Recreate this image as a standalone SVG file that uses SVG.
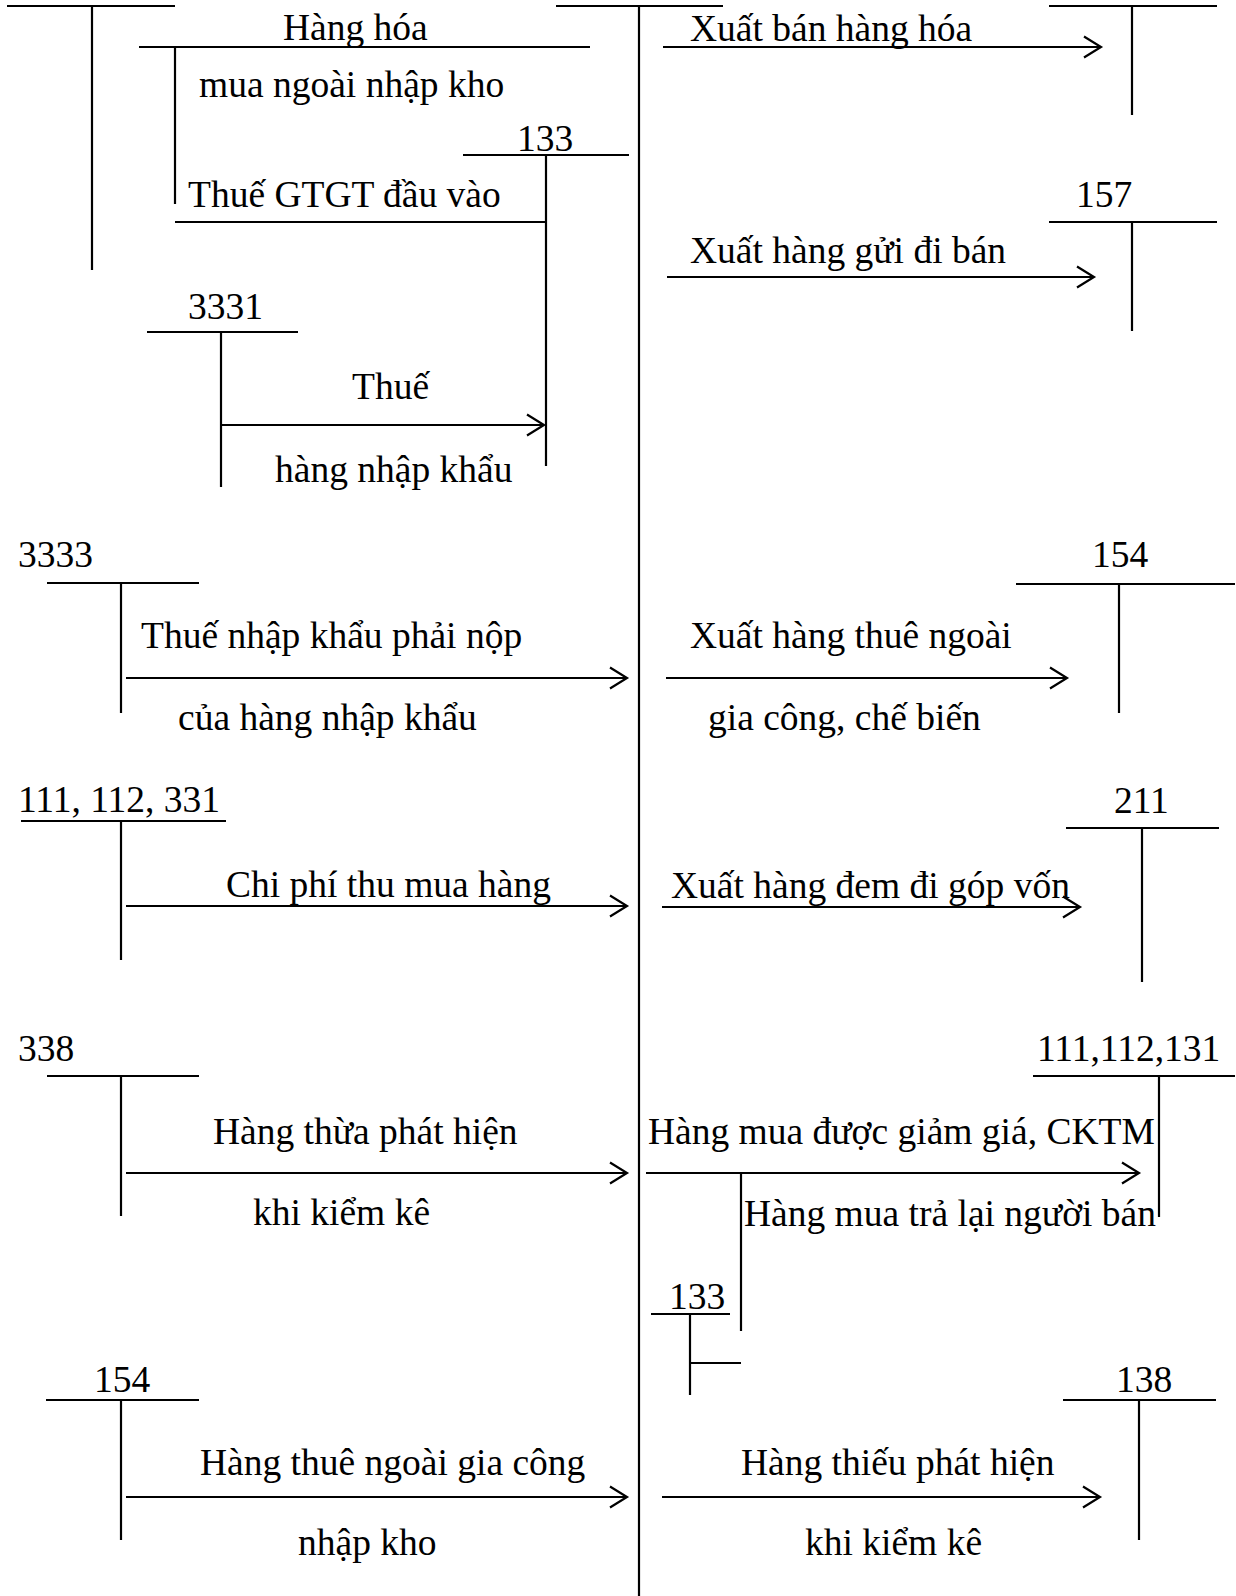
<svg xmlns="http://www.w3.org/2000/svg" width="1236" height="1596" viewBox="0 0 1236 1596">
<defs>
<marker id="arr" markerUnits="userSpaceOnUse" markerWidth="22" markerHeight="24" viewBox="0 0 22 24" refX="19" refY="12" orient="auto">
<path d="M2,1.5 L19,12 L2,22.5" fill="none" stroke="#000" stroke-width="2.2"/>
</marker>
</defs>
<style>
line{stroke:#000;stroke-width:2.2;fill:none}
.a{marker-end:url(#arr)}
text{font-family:"Liberation Serif","Times New Roman",serif;font-size:37.5px;fill:#000}
</style>
<rect width="1236" height="1596" fill="#fff"/>

<g id="acc156"><line x1="556" y1="6" x2="723" y2="6"/><line x1="639" y1="6" x2="639" y2="1596"/></g>
<g id="accTopLeft"><line x1="7" y1="6" x2="175" y2="6"/><line x1="92" y1="6" x2="92" y2="270"/></g>
<g id="acc133a"><text x="517" y="151">133</text><line x1="463" y1="155" x2="629" y2="155"/><line x1="546" y1="155" x2="546" y2="466"/></g>
<g id="acc3331"><text x="188" y="319">3331</text><line x1="147" y1="332" x2="298" y2="332"/><line x1="221" y1="332" x2="221" y2="487"/></g>
<g id="accTopRight"><line x1="1049" y1="6" x2="1217" y2="6"/><line x1="1132" y1="6" x2="1132" y2="115"/></g>
<g id="acc157"><text x="1076" y="207">157</text><line x1="1049" y1="222" x2="1217" y2="222"/><line x1="1132" y1="222" x2="1132" y2="331"/></g>
<g id="acc3333"><text x="18" y="567">3333</text><line x1="47" y1="583" x2="199" y2="583"/><line x1="121" y1="583" x2="121" y2="713"/></g>
<g id="acc154r"><text x="1092" y="567">154</text><line x1="1016" y1="584" x2="1235" y2="584"/><line x1="1119" y1="584" x2="1119" y2="713"/></g>
<g id="acc111"><text x="18" y="812">111, 112, 331</text><line x1="21" y1="821" x2="226" y2="821"/><line x1="121" y1="821" x2="121" y2="960"/></g>
<g id="acc211"><text x="1114" y="813">211</text><line x1="1066" y1="828" x2="1219" y2="828"/><line x1="1142" y1="828" x2="1142" y2="982"/></g>
<g id="acc338"><text x="18" y="1061">338</text><line x1="47" y1="1076" x2="199" y2="1076"/><line x1="121" y1="1076" x2="121" y2="1216"/></g>
<g id="acc111r"><text x="1037" y="1061">111,112,131</text><line x1="1033" y1="1076" x2="1235" y2="1076"/><line x1="1159" y1="1076" x2="1159" y2="1217"/></g>
<g id="acc133b"><text x="669" y="1309">133</text><line x1="651" y1="1314" x2="730" y2="1314"/><line x1="690" y1="1314" x2="690" y2="1395"/></g>
<g id="acc154l"><text x="94" y="1392">154</text><line x1="46" y1="1400" x2="199" y2="1400"/><line x1="121" y1="1400" x2="121" y2="1540"/></g>
<g id="acc138"><text x="1116" y="1392">138</text><line x1="1063" y1="1400" x2="1216" y2="1400"/><line x1="1139" y1="1400" x2="1139" y2="1540"/></g>

<g id="connectors">
<line x1="139" y1="47" x2="590" y2="47"/><line x1="175" y1="47" x2="175" y2="204"/>
<line x1="175" y1="222" x2="546" y2="222"/>
<line class="a" x1="221" y1="425" x2="544" y2="425"/>
<line class="a" x1="663" y1="47" x2="1101" y2="47"/>
<line class="a" x1="667" y1="277" x2="1094" y2="277"/>
<line class="a" x1="126" y1="678" x2="627" y2="678"/>
<line class="a" x1="666" y1="678" x2="1067" y2="678"/>
<line class="a" x1="126" y1="906" x2="627" y2="906"/>
<line class="a" x1="662" y1="907" x2="1080" y2="907"/>
<line class="a" x1="126" y1="1173" x2="627" y2="1173"/>
<line class="a" x1="646" y1="1173" x2="1139" y2="1173"/>
<line x1="741" y1="1173" x2="741" y2="1331"/>
<line x1="690" y1="1363" x2="741" y2="1363"/>
<line class="a" x1="126" y1="1497" x2="627" y2="1497"/>
<line class="a" x1="662" y1="1497" x2="1100" y2="1497"/>
</g>

<g id="labels">
<text x="283" y="40">Hàng hóa</text>
<text x="199" y="97">mua ngoài nhập kho</text>
<text x="188" y="207">Thuế GTGT đầu vào</text>
<text x="352" y="399">Thuế</text>
<text x="275" y="482">hàng nhập khẩu</text>
<text x="690" y="41">Xuất bán hàng hóa</text>
<text x="690" y="263">Xuất hàng gửi đi bán</text>
<text x="141" y="648">Thuế nhập khẩu phải nộp</text>
<text x="178" y="730">của hàng nhập khẩu</text>
<text x="690" y="648">Xuất hàng thuê ngoài</text>
<text x="708" y="730">gia công, chế biến</text>
<text x="226" y="897">Chi phí thu mua hàng</text>
<text x="671" y="898">Xuất hàng đem đi góp vốn</text>
<text x="213" y="1144">Hàng thừa phát hiện</text>
<text x="253" y="1225">khi kiểm kê</text>
<text x="648" y="1144">Hàng mua được giảm giá, CKTM</text>
<text x="744" y="1226">Hàng mua trả lại người bán</text>
<text x="200" y="1475">Hàng thuê ngoài gia công</text>
<text x="298" y="1555">nhập kho</text>
<text x="741" y="1475">Hàng thiếu phát hiện</text>
<text x="805" y="1555">khi kiểm kê</text>
</g>
</svg>
